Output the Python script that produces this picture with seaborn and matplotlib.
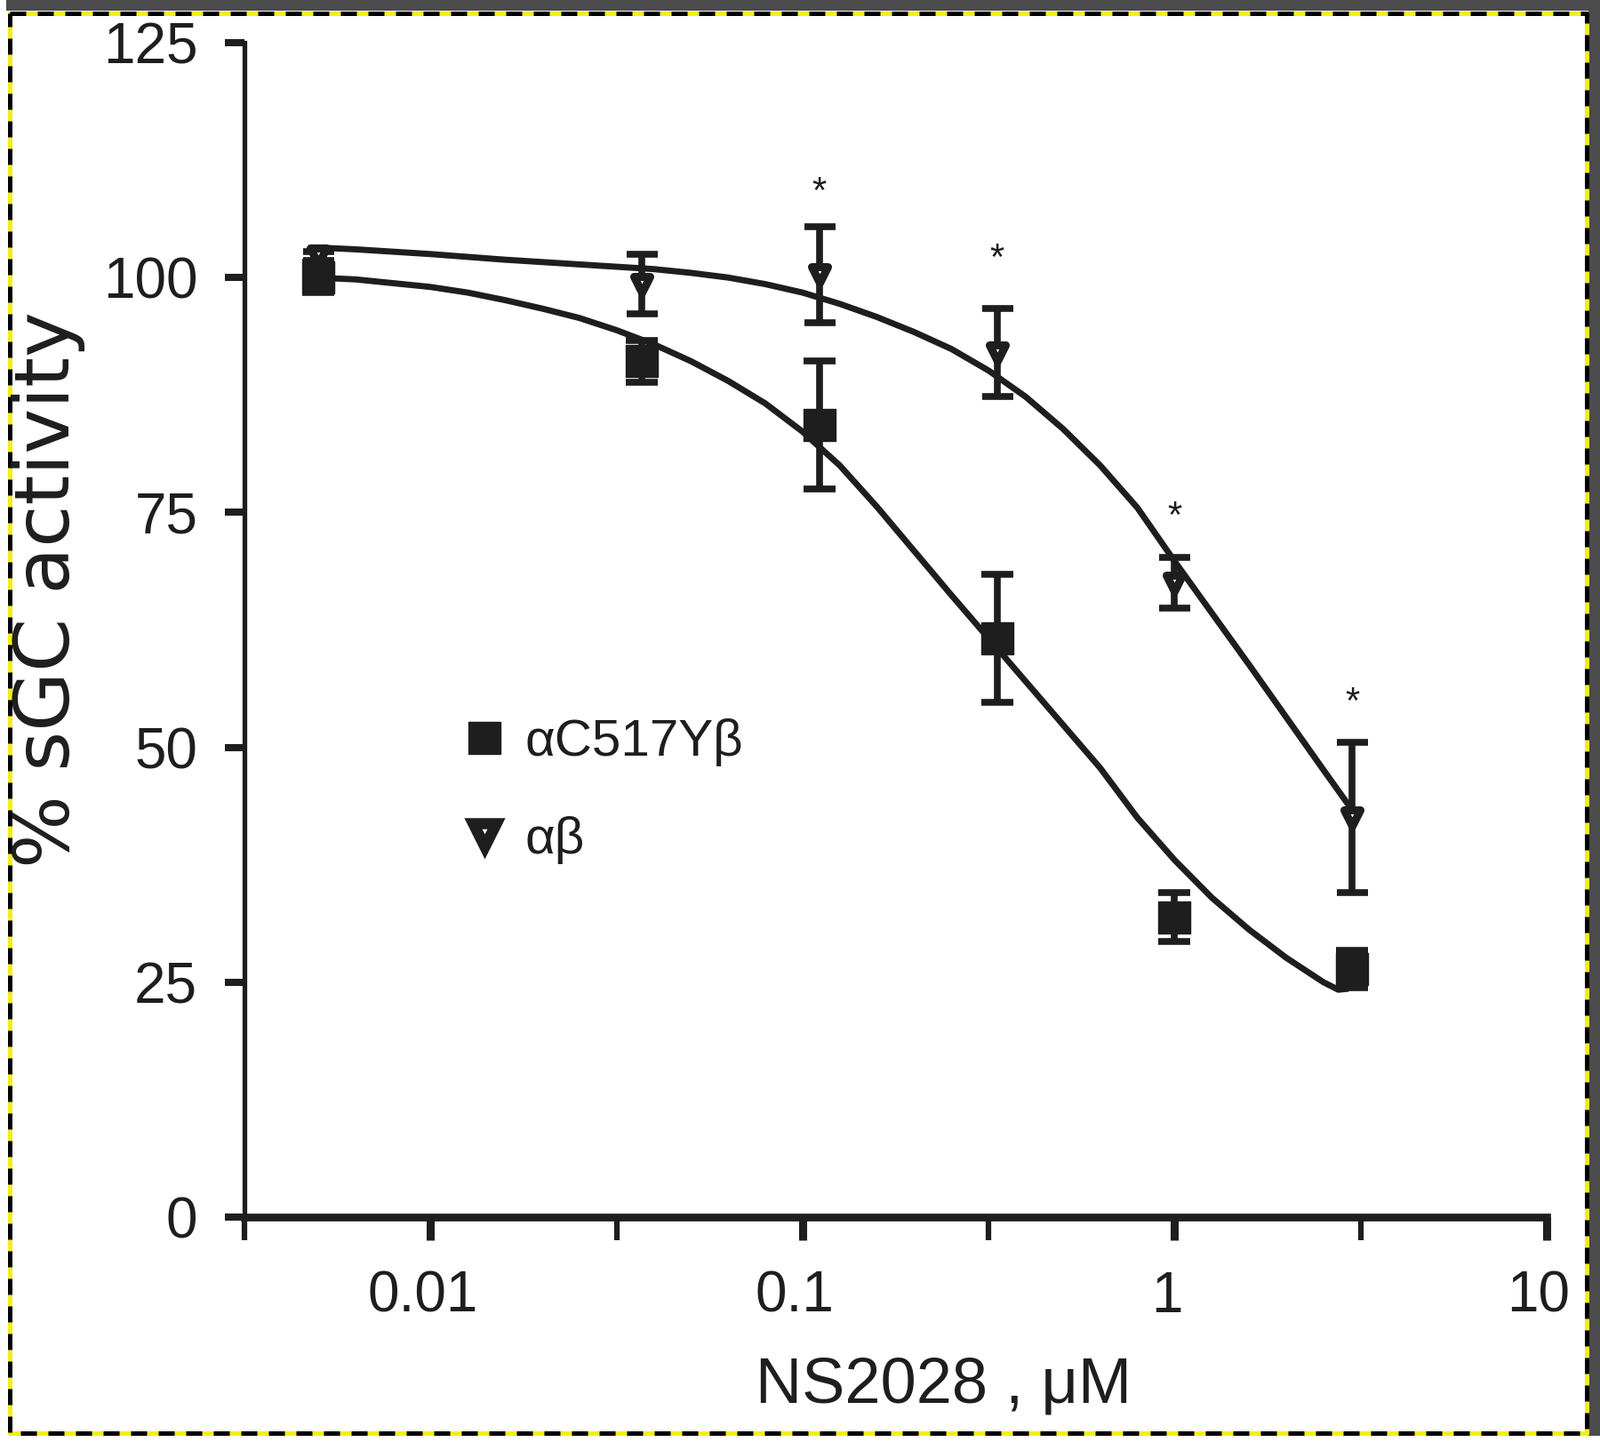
import numpy as np
import pandas as pd
import matplotlib
matplotlib.use("Agg")
import matplotlib.pyplot as plt
import matplotlib.transforms as mtransforms
import seaborn as sns
from matplotlib.lines import Line2D
from matplotlib.patches import Rectangle
from matplotlib.ticker import FixedLocator, FixedFormatter, NullFormatter

# NS2028 concentrations (uM)
conc = [0.005, 0.037, 0.111, 0.333, 1.0, 3.0]

# alpha C517Y beta (filled squares)
mut_mean = [100.0, 91.1, 84.3, 61.6, 31.9, 26.4]
mut_sem = [1.6, 2.2, 6.8, 6.8, 2.6, 2.0]

# alpha beta (open triangles)
wt_mean = [102.3, 99.3, 100.3, 92.0, 67.5, 42.5]
wt_sem = [0.5, 3.2, 5.1, 4.7, 2.7, 8.0]

# significance marks
star_conc = [0.111, 0.333, 1.0, 3.0]
star_y = [109.0, 101.9, 74.5, 54.7]

# fitted curves (log10 conc, % activity)
mut_fit_logx = [-2.306, -2.2, -2.1, -2.0, -1.9, -1.8, -1.7, -1.6, -1.5, -1.4,
                -1.3, -1.2, -1.1, -1.0, -0.9, -0.8, -0.7, -0.6, -0.5, -0.4,
                -0.3, -0.2, -0.1, 0.0, 0.1, 0.2, 0.3, 0.4, 0.44, 0.465]
mut_fit_y = [100.0, 99.8, 99.4, 99.0, 98.4, 97.6, 96.7, 95.7, 94.4, 92.9,
             91.1, 89.0, 86.6, 83.6, 80.0, 75.6, 70.9, 66.2, 61.6, 57.0,
             52.4, 47.8, 42.5, 38.0, 34.0, 30.6, 27.6, 25.0, 24.2, 24.3]

wt_fit_logx = [-2.306, -2.2, -2.0, -1.8, -1.6, -1.4, -1.3, -1.2, -1.1, -1.0,
               -0.9, -0.8, -0.7, -0.6, -0.5, -0.4, -0.3, -0.2, -0.1, 0.0,
               0.1, 0.2, 0.3, 0.4, 0.465]
wt_fit_y = [103.2, 103.0, 102.5, 101.9, 101.4, 100.9, 100.5, 100.0, 99.3, 98.4,
            97.2, 95.8, 94.2, 92.4, 90.1, 87.3, 83.9, 80.0, 75.5, 69.8,
            64.3, 58.8, 53.2, 47.6, 44.0]

x_ticks = [0.01, 0.1, 1, 10]
x_ticklabels = ["0.01", "0.1", "1", "10"]
x_minor = [10 ** -2.5, 10 ** -1.5, 10 ** -0.5, 10 ** 0.5]
y_ticks = [0, 25, 50, 75, 100, 125]

INK = "#1e1e1e"
W, H = 1800, 1622

sns.set_theme(style="white")
plt.rcParams['font.family'] = ['Liberation Sans', 'DejaVu Sans']

fig = plt.figure(figsize=(W / 100, H / 100), dpi=100)
fig.patch.set_facecolor("white")

# screenshot frame: dark bands top/right and yellow-black dashed outline
fig.patches.append(Rectangle((7 / W, 1 - 12 / H), 1, 12 / H, transform=fig.transFigure,
                             facecolor="#4b4b4b", edgecolor="none", zorder=0))
fig.patches.append(Rectangle((1787 / W, 1 - 1615 / H), 13 / W, 1615 / H, transform=fig.transFigure,
                             facecolor="#4b4b4b", edgecolor="none", zorder=0))
fx = np.array([10.5, 1784.5, 1784.5, 10.5, 10.5]) / W
fy = 1 - np.array([14.5, 14.5, 1611.5, 1611.5, 14.5]) / H
fig.lines.append(Line2D(fx, fy, transform=fig.transFigure, color="#f2ee1a", lw=3.6, zorder=1))
fig.lines.append(Line2D(fx, fy, transform=fig.transFigure, color="black", lw=3.6,
                        linestyle=(0, (3.6, 2.6)), zorder=2))

ax = fig.add_axes([275 / W, 253 / H, 1465 / W, 1321 / H])
ax.set_facecolor("none")

mut_fit = pd.DataFrame({"conc": np.power(10.0, mut_fit_logx), "act": mut_fit_y})
wt_fit = pd.DataFrame({"conc": np.power(10.0, wt_fit_logx), "act": wt_fit_y})
sns.lineplot(data=mut_fit, x="conc", y="act", ax=ax, color=INK, lw=5, sort=False, zorder=3)
sns.lineplot(data=wt_fit, x="conc", y="act", ax=ax, color=INK, lw=5, sort=False, zorder=3)

ax.errorbar(conc, mut_mean, yerr=mut_sem, fmt="none", ecolor=INK, elinewidth=5.5,
            capsize=13.3, capthick=5.5, zorder=4)
ax.errorbar(conc, wt_mean, yerr=wt_sem, fmt="none", ecolor=INK, elinewidth=5.5,
            capsize=12.6, capthick=5.5, zorder=4)

sns.scatterplot(x=conc, y=mut_mean, marker="s", s=700, color=INK, edgecolor=INK,
                linewidth=1, ax=ax, zorder=5)
sns.scatterplot(x=conc, y=wt_mean, marker="v", s=169, color="white", edgecolor=INK,
                linewidth=6.5, ax=ax, zorder=5)

for xs, ys in zip(star_conc, star_y):
    ax.text(xs, ys, "*", ha="center", va="center", fontsize=30, color=INK, zorder=6)

ax.set_xscale("log")
ax.set_xlim(10 ** -2.5, 10)
ax.set_ylim(0, 125)
ax.xaxis.set_major_locator(FixedLocator(x_ticks))
ax.xaxis.set_major_formatter(FixedFormatter(x_ticklabels))
ax.xaxis.set_minor_locator(FixedLocator(x_minor))
ax.xaxis.set_minor_formatter(NullFormatter())
ax.set_yticks(y_ticks)
ax.set_yticklabels([str(v) for v in y_ticks])
ax.set_xlabel("")
ax.set_ylabel("")

for side in ["top", "right"]:
    ax.spines[side].set_visible(False)
ax.spines["left"].set_linewidth(3.8)
ax.spines["bottom"].set_linewidth(6.3)
ax.spines["left"].set_color(INK)
ax.spines["bottom"].set_color(INK)

ax.tick_params(axis="y", direction="out", length=16, width=5.8, pad=22,
               labelsize=46, colors=INK, left=True)
ax.tick_params(axis="x", which="major", direction="out", length=19, width=6.5, pad=24,
               labelsize=46, colors=INK, bottom=True)
ax.tick_params(axis="x", which="minor", direction="out", length=19, width=4.5,
               colors=INK, bottom=True)

# x tick labels sit a little left of their ticks in the original
shift = mtransforms.ScaledTranslation(-9 / 100, 0, fig.dpi_scale_trans)
for lab in ax.get_xticklabels():
    lab.set_transform(lab.get_transform() + shift)

fig.text(1061 / W, 1 - 1559 / H, "NS2028 , \u03bcM", ha="center", va="center",
         fontsize=52, color=INK)
fig.text(55 / W, 1 - 663 / H, "% sGC activity", rotation=90, ha="center", va="center",
         fontsize=62, color=INK, family=["DejaVu Sans"])

handles = [
    Line2D([], [], marker="s", linestyle="none", markersize=26, color=INK,
           markeredgecolor=INK, markeredgewidth=1),
    Line2D([], [], marker="v", linestyle="none", markersize=19, markerfacecolor="white",
           markeredgecolor=INK, markeredgewidth=9),
]
ax.legend(handles, ["\u03b1C517Y\u03b2", "\u03b1\u03b2"], loc="center left",
          bbox_to_anchor=(526 / W, 1 - 890 / H), bbox_transform=fig.transFigure,
          frameon=False, fontsize=42, handlelength=0.65, handletextpad=0.45,
          labelspacing=0.95, borderpad=0, borderaxespad=0, labelcolor=INK)

fig.savefig("out.png", dpi=100, facecolor="white")
